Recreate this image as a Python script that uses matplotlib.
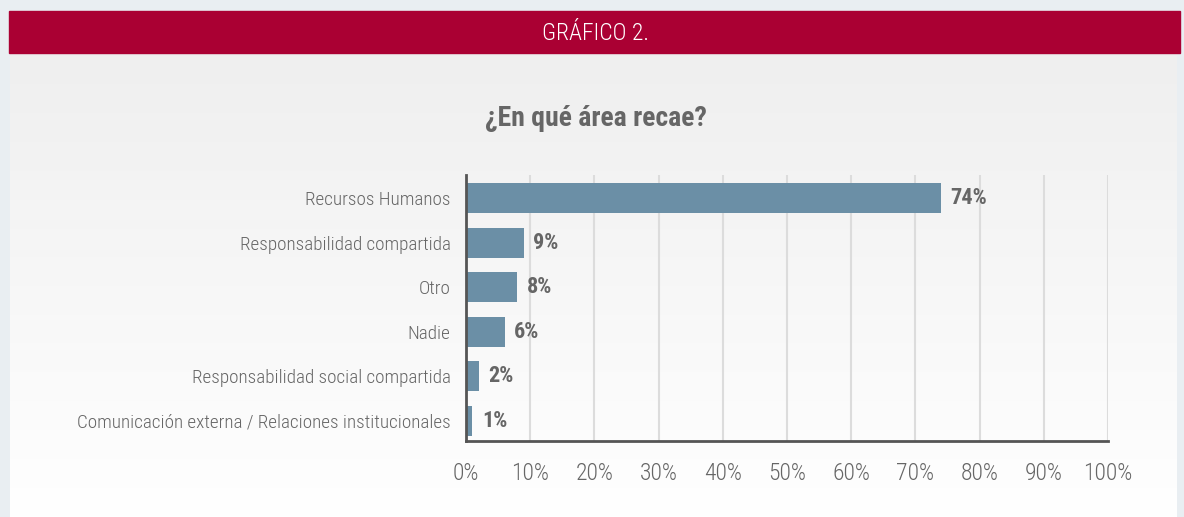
import numpy as np
import matplotlib
matplotlib.use("Agg")
import matplotlib.pyplot as plt
import matplotlib.patches as mpatches

# data
categories = ["Recursos Humanos", "Responsabilidad compartida", "Otro", "Nadie",
              "Responsabilidad social compartida",
              "Comunicación externa / Relaciones institucionales"]
values = [74, 9, 8, 6, 2, 1]
xticks = [0, 10, 20, 30, 40, 50, 60, 70, 80, 90, 100]

narrow = ["Roboto Condensed", "DejaVu Sans"]
grey = "#666666"

fig = plt.figure(figsize=(11.84, 5.17), dpi=100)
fig.patch.set_facecolor("#e9eef2")

# panel with vertical gradient (grey at top, white at bottom)
bg = fig.add_axes([10/1184, 0, 1167/1184, 464/517], zorder=-2)
grad = np.linspace(0, 1, 256).reshape(-1, 1)
top = np.array([0.937, 0.937, 0.937])
bot = np.array([1.0, 1.0, 1.0])
img = top + (bot - top) * grad[:, :, None]
bg.imshow(img, aspect="auto", extent=[0, 1, 0, 1])
bg.set_axis_off()

# red header band
fig.patches.append(mpatches.Rectangle((9/1184, 1-53/517), 1171/1184, 42/517,
                                      transform=fig.transFigure, color="#aa0033", zorder=-1))
fig.text(596/1184, 1-33/517, "GRÁFICO 2.", color="white", fontsize=17,
         family=narrow, fontweight="light", ha="center", va="center")
fig.text(596/1184, 1-118/517, "¿En qué área recae?", color=grey, fontsize=20,
         family=narrow, fontweight="bold", ha="center", va="center")

ax = fig.add_axes([466/1184, 1-441/517, 642/1184, 266/517])
ax.set_facecolor("none")
y = np.arange(len(categories))
ax.barh(y, values, height=0.67, color="#6b8fa6", zorder=3)
for yi, v in zip(y, values):
    ax.text(v + 1.5, yi, f"{v}%", va="center", ha="left", color=grey,
            fontsize=16, fontweight="bold", family=narrow)

ax.set_xlim(0, 100)
ax.set_ylim(5.45, -0.52)
ax.set_xticks(xticks)
ax.set_xticklabels([f"{t}%" for t in xticks], family=narrow, fontsize=17,
                   color=grey, fontweight="light")
ax.set_yticks(y)
ax.set_yticklabels(categories, family=narrow, fontsize=13.8, color=grey,
                   fontweight="light")
ax.tick_params(axis="x", length=0, pad=15)
ax.tick_params(axis="y", length=0, pad=11)
ax.grid(axis="x", color="#dcdcdc", linewidth=1.5, zorder=0)
for s in ["top", "right"]:
    ax.spines[s].set_visible(False)
for s in ["left", "bottom"]:
    ax.spines[s].set_color("#555555")
    ax.spines[s].set_linewidth(2)
    ax.spines[s].set_zorder(4)

fig.savefig("out.png", dpi=100)
